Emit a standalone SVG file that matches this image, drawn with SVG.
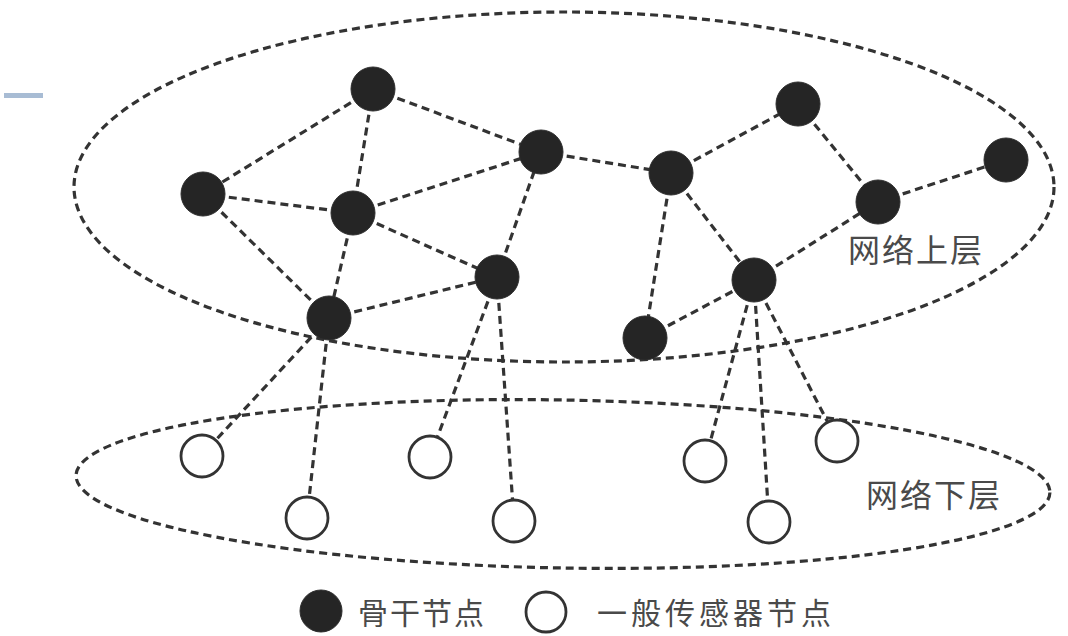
<svg xmlns="http://www.w3.org/2000/svg" width="1068" height="636" viewBox="0 0 1068 636">
<style>
.bg{fill:#ffffff}
.layer{fill:none;stroke:#333333;stroke-width:3.2;stroke-dasharray:8 5}
.edge{stroke:#333333;stroke-width:3.2;stroke-dasharray:8 5;fill:none}
.bb{fill:#252525;stroke:#2e2e2e;stroke-width:1}
.wn{fill:#ffffff;stroke:#333333;stroke-width:2.8}
.lbl{font-family:"Noto Sans CJK SC","Noto Sans CJK JP",sans-serif;font-size:32px;fill:#4a4a4a;letter-spacing:2px}
.leg{font-family:"Noto Sans CJK SC","Noto Sans CJK JP",sans-serif;font-size:30px;fill:#4a4a4a}
</style>
<rect class="bg" x="0" y="0" width="1068" height="636"/>
<rect x="4" y="93" width="39" height="5" fill="#a8bcd4"/>
<g id="layers">
<ellipse id="upper-layer" class="layer" cx="564" cy="187" rx="490" ry="175"/>
<ellipse id="lower-layer" class="layer" cx="563" cy="484" rx="487" ry="84" transform="rotate(1 563 484)"/>
</g>
<g id="connectors">
<line class="edge" x1="373" y1="89" x2="203" y2="194"/>
<line class="edge" x1="373" y1="89" x2="353" y2="213"/>
<line class="edge" x1="373" y1="89" x2="541" y2="152"/>
<line class="edge" x1="203" y1="194" x2="353" y2="213"/>
<line class="edge" x1="203" y1="194" x2="329" y2="318"/>
<line class="edge" x1="353" y1="213" x2="541" y2="152"/>
<line class="edge" x1="353" y1="213" x2="497" y2="277"/>
<line class="edge" x1="353" y1="213" x2="329" y2="318"/>
<line class="edge" x1="329" y1="318" x2="497" y2="277"/>
<line class="edge" x1="497" y1="277" x2="541" y2="152"/>
<line class="edge" x1="541" y1="152" x2="671" y2="173"/>
<line class="edge" x1="671" y1="173" x2="798" y2="104"/>
<line class="edge" x1="798" y1="104" x2="878" y2="202"/>
<line class="edge" x1="878" y1="202" x2="1006" y2="160"/>
<line class="edge" x1="671" y1="173" x2="754" y2="280"/>
<line class="edge" x1="671" y1="173" x2="645" y2="338"/>
<line class="edge" x1="754" y1="280" x2="878" y2="202"/>
<line class="edge" x1="645" y1="338" x2="754" y2="280"/>
<line class="edge" x1="329" y1="318" x2="202" y2="455"/>
<line class="edge" x1="329" y1="318" x2="307" y2="517"/>
<line class="edge" x1="497" y1="277" x2="430" y2="457"/>
<line class="edge" x1="497" y1="277" x2="514" y2="521"/>
<line class="edge" x1="754" y1="280" x2="705" y2="461"/>
<line class="edge" x1="754" y1="280" x2="769" y2="522"/>
<line class="edge" x1="754" y1="280" x2="837" y2="440"/>
</g>
<g id="node-a"><circle class="bb" cx="373" cy="89" r="22"/></g>
<g id="node-b"><circle class="bb" cx="203" cy="194" r="22"/></g>
<g id="node-c"><circle class="bb" cx="353" cy="213" r="22"/></g>
<g id="node-d"><circle class="bb" cx="497" cy="277" r="22"/></g>
<g id="node-e"><circle class="bb" cx="329" cy="318" r="22"/></g>
<g id="node-f"><circle class="bb" cx="541" cy="152" r="22"/></g>
<g id="node-g"><circle class="bb" cx="671" cy="173" r="22"/></g>
<g id="node-h"><circle class="bb" cx="798" cy="104" r="22"/></g>
<g id="node-i"><circle class="bb" cx="878" cy="202" r="22"/></g>
<g id="node-j"><circle class="bb" cx="1006" cy="160" r="22"/></g>
<g id="node-k"><circle class="bb" cx="754" cy="280" r="22"/></g>
<g id="node-l"><circle class="bb" cx="645" cy="338" r="22"/></g>
<g id="node-w1"><circle class="wn" cx="202" cy="456" r="21"/></g>
<g id="node-w2"><circle class="wn" cx="307" cy="518" r="21"/></g>
<g id="node-w3"><circle class="wn" cx="430" cy="457" r="21"/></g>
<g id="node-w4"><circle class="wn" cx="514" cy="521" r="21"/></g>
<g id="node-w5"><circle class="wn" cx="705" cy="461" r="21"/></g>
<g id="node-w6"><circle class="wn" cx="769" cy="522" r="21"/></g>
<g id="node-w7"><circle class="wn" cx="837" cy="441" r="21"/></g>
<g id="label-upper"><text class="lbl" x="848" y="262">网络上层</text></g>
<g id="label-lower"><text class="lbl" x="866" y="507">网络下层</text></g>
<g id="legend">
<circle class="bb" cx="321" cy="611" r="21"/>
<text class="leg" x="358" y="624" letter-spacing="2">骨干节点</text>
<circle class="wn" cx="546" cy="612" r="20"/>
<text class="leg" x="597" y="624" letter-spacing="4">一般传感器节点</text>
</g>
</svg>
